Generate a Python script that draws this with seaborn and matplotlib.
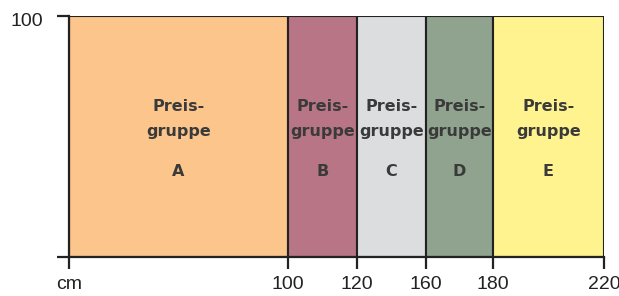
#!/usr/bin/env python3
"""Preisgruppen nach Breite (cm) - Bandgrafik"""

import numpy as np
import seaborn as sns
import matplotlib.pyplot as plt
import matplotlib.transforms as mtransforms

# data
groups = ["A", "B", "C", "D", "E"]
starts = [0, 100, 120, 160, 180]
ends = [100, 120, 160, 180, 220]
height = 100
colors = ["#FBC58C", "#B87585", "#DCDDDF", "#8FA38E", "#FEF38E"]
x_ticks = [0, 100, 120, 160, 180, 220]
x_labels = ["cm", "100", "120", "160", "180", "220"]
y_ticks = [0, 100]
y_labels = ["", "100"]

# the original axis is not drawn to scale: map each break to its drawn share
breaks = [0, 100, 120, 160, 180, 220]
shares = [0, 219, 288, 357, 424, 535]


def forward(x):
    x = np.asarray(x, dtype=float)
    return np.interp(x, breaks, shares, left=-1, right=536)


def inverse(y):
    y = np.asarray(y, dtype=float)
    return np.interp(y, shares, breaks, left=-1, right=221)


def main():
    sns.set_theme(style="white")
    plt.rcParams["font.family"] = ["Liberation Sans", "DejaVu Sans"]

    fig = plt.figure(figsize=(6.19, 2.96), dpi=100)
    ax = fig.add_axes([69 / 619, 1 - 257 / 296, 535 / 619, 241 / 296])
    ax.set_xscale("function", functions=(forward, inverse))

    widths = [e - s for s, e in zip(starts, ends)]
    ax.bar(starts, [height] * len(groups), width=widths, align="edge",
           color=colors, edgecolor="#222222", linewidth=1.5, zorder=2)

    for g, s, e in zip(groups, starts, ends):
        mid = (s + e) / 2
        kw = dict(ha="center", va="center", color="#3a3a3a",
                  fontsize=11.5, fontweight="bold", family="DejaVu Sans",
                  zorder=3)
        ax.text(mid, 62.5, "Preis-", **kw)
        ax.text(mid, 52.0, "gruppe", **kw)
        ax.text(mid, 35.5, g, **kw)

    ax.set_xlim(0, 220)
    ax.set_ylim(0, 100)
    ax.set_xticks(x_ticks)
    ax.set_xticklabels(x_labels)
    ax.set_yticks(y_ticks)
    ax.set_yticklabels(y_labels)
    ax.tick_params(axis="both", direction="out", length=8.5, width=1.6,
                   color="#222222", labelsize=14, labelcolor="#222222",
                   bottom=True, left=True)
    ax.tick_params(axis="x", pad=5.5)
    ax.tick_params(axis="y", pad=10)

    # y label sits a little below its tick in the original
    shift = mtransforms.ScaledTranslation(0, -3 / 100, fig.dpi_scale_trans)
    for lab in ax.get_yticklabels():
        lab.set_transform(lab.get_transform() + shift)

    for side in ["left", "bottom"]:
        ax.spines[side].set_color("#222222")
        ax.spines[side].set_linewidth(1.6)
    for side in ["top", "right"]:
        ax.spines[side].set_visible(False)

    fig.savefig("out.png", dpi=100)


if __name__ == "__main__":
    main()
